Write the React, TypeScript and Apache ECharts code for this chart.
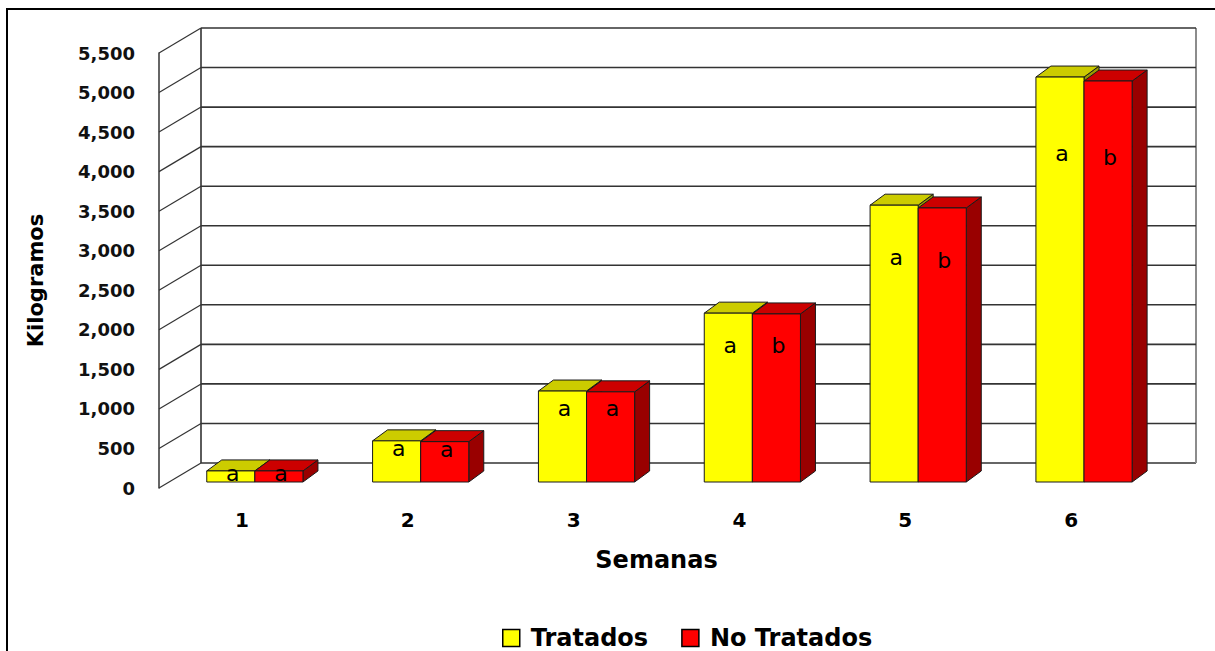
import React, { useEffect, useRef } from "react";
import * as echarts from "echarts";

const categories = ["1", "2", "3", "4", "5", "6"];
const tratados = [140, 520, 1150, 2135, 3500, 5120];
const noTratados = [140, 510, 1140, 2125, 3465, 5070];
const letrasTratados = ["a", "a", "a", "a", "a", "a"];
const letrasNoTratados = ["a", "a", "a", "b", "b", "b"];
const yTicks = [0, 500, 1000, 1500, 2000, 2500, 3000, 3500, 4000, 4500, 5000, 5500];

// styling constants (pixel offsets of the pseudo-3D drawing)
const WALL_DX = 42;
const WALL_DY = 25;
const BAR_DX = 15;
const BAR_DY = 11;
const BAR_SHIFT_Y = -6;

const FACE = [
  { front: "#FFFF00", top: "#CCCC00", side: "#999900" },
  { front: "#FF0000", top: "#CC0000", side: "#990000" },
];

function makeBarRender(sIdx: number, letters: string[]) {
  return (params: any, api: any) => {
    const cat = api.value(0);
    const v = api.value(1);
    const top = api.coord([cat, v]);
    const base = api.coord([cat, 0]);
    const lab = api.coord([cat, v * 0.81]);
    const band = api.size([1, 0])[0];
    const barW = band * 0.29;
    const pairCenter = top[0] + band * 0.078;
    const xl = sIdx === 0 ? pairCenter - barW : pairCenter;
    const xr = xl + barW;
    const yt = top[1] + BAR_SHIFT_Y;
    const yb = base[1] + BAR_SHIFT_Y;
    const c = FACE[sIdx];
    const stroke = { stroke: "#1a1a1a", lineWidth: 1 };
    return {
      type: "group",
      children: [
        {
          type: "polygon",
          shape: {
            points: [
              [xr, yt],
              [xr + BAR_DX, yt - BAR_DY],
              [xr + BAR_DX, yb - BAR_DY],
              [xr, yb],
            ],
          },
          style: { fill: c.side, ...stroke },
        },
        {
          type: "polygon",
          shape: {
            points: [
              [xl, yt],
              [xr, yt],
              [xr + BAR_DX, yt - BAR_DY],
              [xl + BAR_DX, yt - BAR_DY],
            ],
          },
          style: { fill: c.top, ...stroke },
        },
        {
          type: "rect",
          shape: { x: xl, y: yt, width: xr - xl, height: yb - yt },
          style: { fill: c.front, ...stroke },
        },
        {
          type: "text",
          x: (xl + xr) / 2 + 2,
          y: lab[1] + BAR_SHIFT_Y,
          style: {
            text: letters[params.dataIndex],
            fill: "#000",
            font: '22px "DejaVu Sans"',
            align: "center",
            verticalAlign: "middle",
          },
        },
      ],
    };
  };
}

function wallRender(params: any, api: any) {
  const v = api.value(1);
  const y = api.coord([0, v])[1];
  const cs = params.coordSys;
  const line = { stroke: "#333333", lineWidth: 1.6 };
  const children: any[] = [
    {
      type: "line",
      shape: { x1: cs.x + WALL_DX, y1: y - WALL_DY, x2: cs.x + cs.width + WALL_DX, y2: y - WALL_DY },
      style: line,
    },
    {
      type: "line",
      shape: { x1: cs.x, y1: y, x2: cs.x + WALL_DX, y2: y - WALL_DY },
      style: { stroke: "#333333", lineWidth: 1.2 },
    },
  ];
  if (params.dataIndex === 0) {
    children.push(
      {
        type: "line",
        shape: { x1: cs.x + WALL_DX, y1: cs.y - WALL_DY, x2: cs.x + WALL_DX, y2: cs.y + cs.height - WALL_DY },
        style: line,
      },
      {
        type: "line",
        shape: {
          x1: cs.x + cs.width + WALL_DX,
          y1: cs.y - WALL_DY,
          x2: cs.x + cs.width + WALL_DX,
          y2: cs.y + cs.height - WALL_DY,
        },
        style: { stroke: "#8c8c8c", lineWidth: 2 },
      }
    );
  }
  return { type: "group", children };
}

export default function App() {
  const ref = useRef<HTMLDivElement>(null);
  useEffect(() => {
    if (!ref.current) return;
    const chart = echarts.init(ref.current, undefined, { renderer: "svg" });
    chart.setOption({
      animation: false,
      backgroundColor: "#ffffff",
      grid: { left: 159, right: 61, top: 53, bottom: 163 },
      legend: {
        data: ["Tratados", "No Tratados"],
        left: 502,
        top: 626,
        padding: 0,
        icon: "rect",
        itemWidth: 17,
        itemHeight: 17,
        itemGap: 33,
        itemStyle: { borderColor: "#000", borderWidth: 1.5 },
        textStyle: {
          fontFamily: "DejaVu Sans",
          fontWeight: "bold",
          fontSize: 24,
          lineHeight: 19,
          color: "#000",
          padding: [0, 0, 0, 6],
        },
      },
      xAxis: {
        type: "category",
        data: categories,
        name: "Semanas",
        nameLocation: "middle",
        nameGap: 60,
        nameTextStyle: { fontFamily: "DejaVu Sans", fontWeight: "bold", fontSize: 24, color: "#000" },
        axisLine: { show: false },
        axisTick: { show: false },
        axisLabel: { fontFamily: "DejaVu Sans", fontWeight: "bold", fontSize: 20, color: "#000", margin: 22 },
        splitLine: { show: false },
      },
      yAxis: {
        type: "value",
        min: 0,
        max: 5500,
        interval: 500,
        name: "Kilogramos",
        nameLocation: "middle",
        nameGap: 113,
        nameRotate: 90,
        nameTextStyle: {
          fontFamily: "DejaVu Sans",
          fontWeight: "bold",
          fontSize: 21,
          color: "#000",
          padding: [0, 20, 0, 0],
        },
        axisLine: { show: true, lineStyle: { color: "#333333", width: 1.5 } },
        axisTick: { show: false },
        splitLine: { show: false },
        axisLabel: {
          fontFamily: "DejaVu Sans",
          fontWeight: "bold",
          fontSize: 18,
          color: "#111",
          margin: 24,
          formatter: (v: number) => v.toLocaleString("en-US"),
        },
      },
      graphic: [
        {
          type: "rect",
          z: 100,
          silent: true,
          shape: { x: 7, y: 9, width: 1250, height: 700 },
          style: { fill: "none", stroke: "#000", lineWidth: 2 },
        },
      ],
      series: [
        {
          type: "custom",
          name: "walls",
          silent: true,
          clip: false,
          z: 1,
          renderItem: wallRender,
          data: yTicks.map((v) => [0, v]),
        },
        {
          type: "custom",
          name: "Tratados",
          clip: false,
          z: 2,
          itemStyle: { color: "#FFFF00" },
          renderItem: makeBarRender(0, letrasTratados),
          data: tratados.map((v, i) => [i, v]),
        },
        {
          type: "custom",
          name: "No Tratados",
          clip: false,
          z: 3,
          itemStyle: { color: "#FF0000" },
          renderItem: makeBarRender(1, letrasNoTratados),
          data: noTratados.map((v, i) => [i, v]),
        },
      ],
    });
    return () => chart.dispose();
  }, []);
  return (
    <div
      ref={ref}
      style={{ position: "fixed", left: 0, top: 0, width: 1215, height: 651, background: "#fff" }}
    />
  );
}
